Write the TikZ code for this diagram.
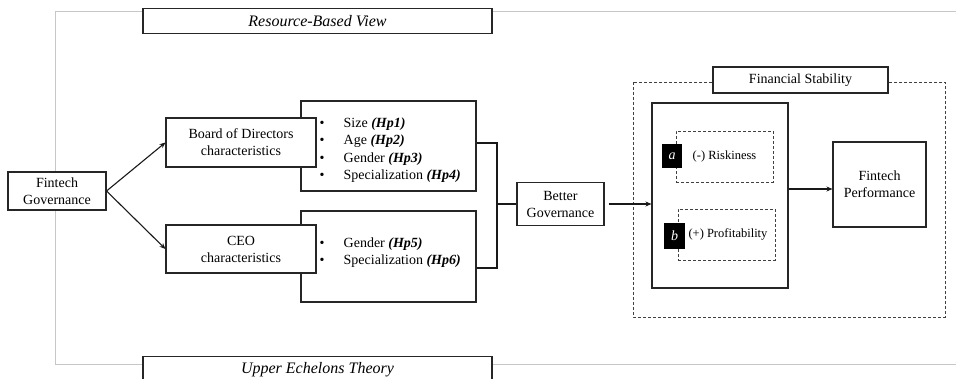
\documentclass[tikz,border=0pt]{standalone}
\usepackage{fontspec}
\setmainfont{Liberation Serif}
\usetikzlibrary{arrows.meta}
\begin{document}
\begin{tikzpicture}[x=1pt,y=-1pt,
  box/.style={draw=black!85,line width=1.1pt,fill=white,inner sep=0pt,align=center,
    font=\fontsize{14}{17}\selectfont},
  dbox/.style={draw=black!75,line width=0.9pt,dash pattern=on 3pt off 2pt,inner sep=0pt},
  lab/.style={fill=black,text=white,inner sep=0pt,font=\fontsize{14}{16}\selectfont\itshape},
  title/.style={draw=black!85,line width=1.3pt,fill=white,inner sep=0pt,
    font=\fontsize{16}{18}\selectfont\itshape},
  arr/.style={draw=black!90,line width=1.1pt,-{Stealth[length=6pt,width=5pt]}},
  ln/.style={draw=black!90,line width=1.3pt},
  txt/.style={inner sep=0pt,anchor=west,align=left,font=\fontsize{14}{17.3}\selectfont}]
\useasboundingbox (0,0) rectangle (956,379);
% background frame
\draw[black!22,line width=1pt] (970,12) -- (55,12) -- (55,364) -- (970,364);
% titles
\node[title,minimum width=349pt,minimum height=25pt] (rbv) at (317.5,21) {Resource-Based View};
\node[title,minimum width=349pt,minimum height=26pt] (uet) at (317.5,369.5) {Upper Echelons Theory};
% left part
\node[box,minimum width=98pt,minimum height=38pt] (fg) at (57,191) {Fintech\\Governance};
\node[box,minimum width=175pt,minimum height=90pt] (l1) at (388.5,146) {};
\node[box,minimum width=175pt,minimum height=91pt] (l2) at (388.5,256.5) {};
\node[box,minimum width=150pt,minimum height=49pt] (bod) at (241,142.5) {Board of Directors\\characteristics};
\node[box,minimum width=150pt,minimum height=48pt] (ceo) at (241,249) {CEO\\characteristics};
\node[txt] (t1) at (319.5,150) {\makebox[24pt][l]{\textbullet}Size \textbf{\textit{(Hp1)}}\\
  \makebox[24pt][l]{\textbullet}Age \textbf{\textit{(Hp2)}}\\
  \makebox[24pt][l]{\textbullet}Gender \textbf{\textit{(Hp3)}}\\
  \makebox[24pt][l]{\textbullet}Specialization \textbf{\textit{(Hp4)}}};
\node[txt] (t2) at (319.5,252.5) {\makebox[24pt][l]{\textbullet}Gender \textbf{\textit{(Hp5)}}\\
  \makebox[24pt][l]{\textbullet}Specialization \textbf{\textit{(Hp6)}}};
\draw[arr] (fg.east) -- (bod.west);
\draw[arr] (fg.east) -- (ceo.west);
\node[box,minimum width=87pt,minimum height=43pt] (bg) at (560.5,204) {Better\\Governance};
\coordinate (bm) at (497,204);
\draw[ln] (l1.east |- 0,143) -| (bm) |- (l2.east |- 0,268);
\draw[ln] (bm) -- (bg.west);
% financial stability
\draw[dbox] (633,82) rectangle (945,317);
\node[box,minimum width=175pt,minimum height=26pt] (fs) at (800.5,80) {Financial Stability};
\node[box,minimum width=136pt,minimum height=185pt] (in) at (720,195.5) {};
\node[dbox,minimum width=97pt,minimum height=51pt,font=\fontsize{12.5}{14}\selectfont] (rk) at (724.5,156.5) {(-) Riskiness};
\node[dbox,minimum width=97pt,minimum height=51pt,font=\fontsize{12.5}{14}\selectfont] (pf) at (726.5,234.5) {\hspace{3pt}(+) Profitability};
\node[lab,minimum width=20pt,minimum height=24pt] (a) at (672,156) {a};
\node[lab,minimum width=21pt,minimum height=26pt] (b) at (674.5,236) {b};
\node[box,minimum width=93pt,minimum height=85pt] (fp) at (879.5,184.5) {Fintech\\Performance};
\draw[arr] ([xshift=4pt]bg.east) -- (in.west |- bg.east);
\draw[arr] (in.east |- 0,189) -- (fp.west |- 0,189);
\end{tikzpicture}
\end{document}
